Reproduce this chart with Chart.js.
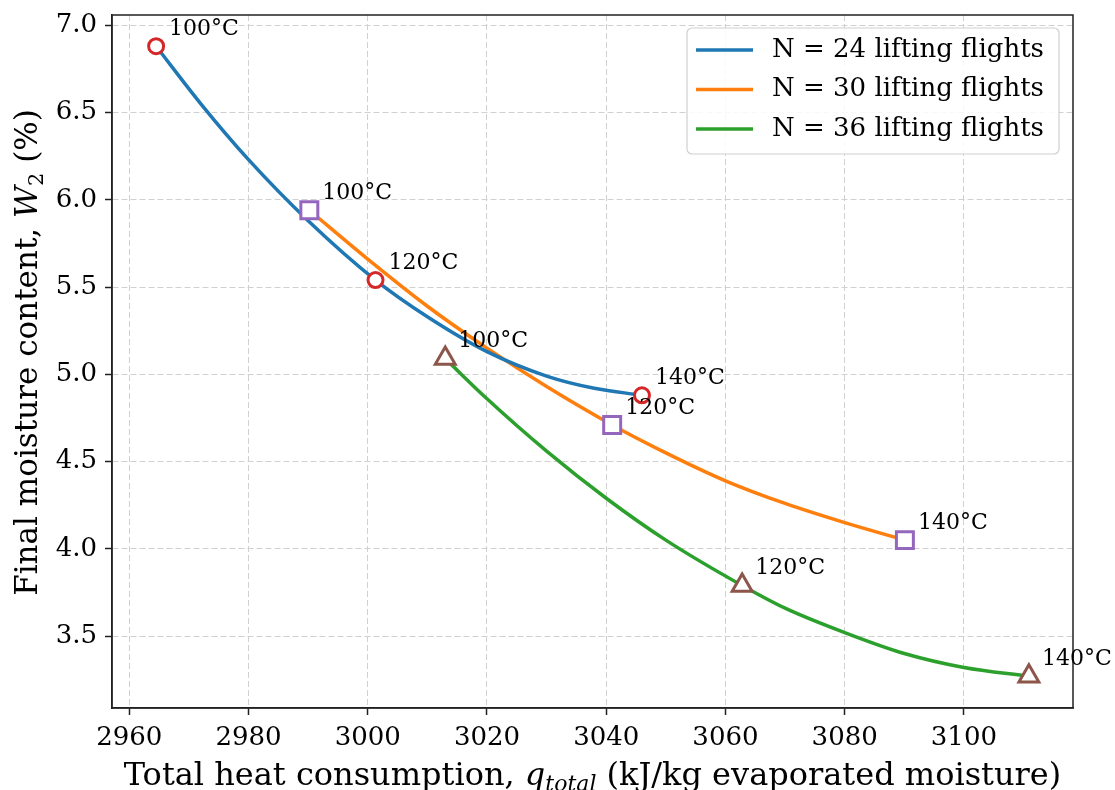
<!DOCTYPE html>
<html>
<head>
<meta charset="utf-8">
<script src="https://cdn.jsdelivr.net/npm/chart.js@4.4.0/dist/chart.umd.min.js"></script>
<style>
  html, body { margin: 0; padding: 0; background: #fff; }
  #wrap { width: 1115px; height: 790px; }
</style>
</head>
<body>
<div id="wrap"><canvas id="chart" width="1115" height="790"></canvas></div>
<script>
// tick labels
const xTicks = [2960, 2980, 3000, 3020, 3040, 3060, 3080, 3100];
const yTicks = [3.5, 4.0, 4.5, 5.0, 5.5, 6.0, 6.5, 7.0];

// series
const seriesLabels = ['N = 24 lifting flights', 'N = 30 lifting flights', 'N = 36 lifting flights'];
const tempLabels = ['100°C', '120°C', '140°C'];

// measured points (marker positions)
const n24Heat = [2964.5, 3001.3, 3046.0];
const n24Moist = [6.88, 5.54, 4.88];
const n30Heat = [2990.2, 3041.0, 3090.1];
const n30Moist = [5.94, 4.71, 4.05];
const n36Heat = [3013.0, 3062.8, 3110.9];
const n36Moist = [5.09, 3.79, 3.27];

// fitted curves
const n24CurveHeat = [2964.5, 2972, 2980, 2990, 3001.3, 3010, 3020, 3030, 3038, 3046.0];
const n24CurveMoist = [6.88, 6.55, 6.23, 5.88, 5.54, 5.33, 5.13, 4.99, 4.92, 4.88];
const n30CurveHeat = [2990.2, 3000, 3010, 3020, 3030, 3041.0, 3050, 3060, 3070, 3080, 3090.1];
const n30CurveMoist = [5.94, 5.66, 5.39, 5.15, 4.93, 4.71, 4.55, 4.39, 4.26, 4.15, 4.05];
const n36CurveHeat = [3013.0, 3020, 3030, 3040, 3050, 3062.8, 3070, 3080, 3090, 3100, 3110.9];
const n36CurveMoist = [5.09, 4.86, 4.56, 4.29, 4.05, 3.79, 3.66, 3.52, 3.40, 3.32, 3.27];

const lineColors = ['#1f77b4', '#ff7f0e', '#2ca02c'];
const markerColors = ['#d62728', '#9467bd', '#8c564b'];
const markerStyles = ['circle', 'rect', 'triangle'];
const markerRadius = [7.5, 12, 11.5];

const SERIF = '"DejaVu Serif", "Liberation Serif", serif';

function pairs(xs, ys) {
    return xs.map((x, i) => ({ x: x, y: ys[i] }));
}

const curves = [
    pairs(n24CurveHeat, n24CurveMoist),
    pairs(n30CurveHeat, n30CurveMoist),
    pairs(n36CurveHeat, n36CurveMoist)
];
const markers = [
    pairs(n24Heat, n24Moist),
    pairs(n30Heat, n30Moist),
    pairs(n36Heat, n36Moist)
];

const datasets = [];
curves.forEach((pts, i) => {
    datasets.push({
        label: seriesLabels[i],
        data: pts,
        showLine: true,
        borderColor: lineColors[i],
        borderWidth: 3.5,
        pointRadius: 0,
        cubicInterpolationMode: 'monotone',
        order: 2
    });
});
markers.forEach((pts, i) => {
    datasets.push({
        label: 'markers ' + i,
        data: pts,
        showLine: false,
        pointStyle: markerStyles[i],
        pointRadius: markerRadius[i],
        pointBorderWidth: 3,
        pointBorderColor: markerColors[i],
        pointBackgroundColor: '#ffffff',
        order: 1
    });
});

// draw a string made of several font runs (for italic / subscripts)
function richWidth(ctx, parts) {
    let w = 0;
    parts.forEach(p => { ctx.font = p.font; w += ctx.measureText(p.text).width; });
    return w;
}
function drawRich(ctx, parts, x, y) {
    const w = richWidth(ctx, parts);
    let cx = x - w / 2;
    parts.forEach(p => {
        ctx.font = p.font;
        ctx.fillText(p.text, cx, y + (p.dy || 0));
        cx += ctx.measureText(p.text).width;
    });
}

const decorations = {
    id: 'decorations',
    afterDatasetsDraw(chart) {
        const { ctx, chartArea: a, scales } = chart;
        ctx.save();
        // full frame
        ctx.strokeStyle = '#222';
        ctx.lineWidth = 1.5;
        ctx.strokeRect(a.left, a.top, a.right - a.left, a.bottom - a.top);

        // temperature annotations
        ctx.fillStyle = '#000';
        ctx.font = '22px ' + SERIF;
        ctx.textAlign = 'left';
        ctx.textBaseline = 'middle';
        markers.forEach(pts => {
            pts.forEach((p, j) => {
                const px = scales.x.getPixelForValue(p.x);
                const py = scales.y.getPixelForValue(p.y);
                ctx.fillText(tempLabels[j], px + 13, py - 17);
            });
        });
        ctx.restore();
    },
    afterDraw(chart) {
        const { ctx, chartArea: a } = chart;
        ctx.save();

        // legend (inside, upper right)
        const lw = 372, lh = 126;
        const lx = a.right - 14 - lw, ly = a.top + 13;
        ctx.fillStyle = 'rgba(255,255,255,0.85)';
        ctx.strokeStyle = '#cfcfcf';
        ctx.lineWidth = 1.2;
        ctx.beginPath();
        ctx.roundRect(lx, ly, lw, lh, 5);
        ctx.fill();
        ctx.stroke();
        ctx.font = '26px ' + SERIF;
        ctx.textAlign = 'left';
        ctx.textBaseline = 'middle';
        seriesLabels.forEach((lab, i) => {
            const ry = ly + 22 + i * 39.5;
            ctx.strokeStyle = lineColors[i];
            ctx.lineWidth = 3.5;
            ctx.beginPath();
            ctx.moveTo(lx + 9, ry);
            ctx.lineTo(lx + 66, ry);
            ctx.stroke();
            ctx.fillStyle = '#000';
            ctx.fillText(lab, lx + 85, ry);
        });

        // axis titles
        ctx.fillStyle = '#000';
        ctx.textAlign = 'left';
        ctx.textBaseline = 'alphabetic';
        const xBig = '32px ' + SERIF;
        drawRich(ctx, [
            { text: 'Total heat consumption, ', font: xBig },
            { text: 'q', font: 'italic ' + xBig },
            { text: 'total', font: 'italic 22px ' + SERIF, dy: 6 },
            { text: ' (kJ/kg evaporated moisture)', font: xBig }
        ], (a.left + a.right) / 2, 785);

        const yBig = '31px ' + SERIF;
        ctx.translate(37, (a.top + a.bottom) / 2 - 9);
        ctx.rotate(-Math.PI / 2);
        drawRich(ctx, [
            { text: 'Final moisture content, ', font: yBig },
            { text: 'W', font: 'italic ' + yBig },
            { text: '2', font: '21px ' + SERIF, dy: 6 },
            { text: ' (%)', font: yBig }
        ], 0, 0);
        ctx.restore();
    }
};

new Chart(document.getElementById('chart'), {
    type: 'scatter',
    data: { datasets: datasets },
    options: {
        responsive: false,
        animation: false,
        devicePixelRatio: 1,
        layout: { padding: { top: 14, right: 42, left: 0, bottom: 0 } },
        plugins: {
            legend: { display: false },
            tooltip: { enabled: false }
        },
        scales: {
            x: {
                type: 'linear',
                min: 2957.1,
                max: 3118.3,
                afterBuildTicks: s => { s.ticks = xTicks.map(v => ({ value: v })); },
                afterFit: s => { s.height = 82; s.paddingLeft = 0; s.paddingRight = 0; },
                ticks: {
                    color: '#000',
                    font: { family: SERIF, size: 26 },
                    padding: 8,
                    maxRotation: 0,
                    callback: v => String(v)
                },
                grid: {
                    color: '#d0d0d0',
                    lineWidth: 1,
                    tickColor: '#222',
                    tickLength: 7,
                    tickWidth: 1.5
                },
                border: { display: true, color: '#222', width: 1.5, dash: [6, 3] }
            },
            y: {
                type: 'linear',
                min: 3.088,
                max: 7.059,
                afterBuildTicks: s => { s.ticks = yTicks.map(v => ({ value: v })); },
                afterFit: s => { s.width = 112; s.paddingTop = 0; s.paddingBottom = 0; },
                ticks: {
                    color: '#000',
                    font: { family: SERIF, size: 26 },
                    padding: 8,
                    callback: v => Number(v).toFixed(1)
                },
                grid: {
                    color: '#d0d0d0',
                    lineWidth: 1,
                    tickColor: '#222',
                    tickLength: 7,
                    tickWidth: 1.5
                },
                border: { display: true, color: '#222', width: 1.5, dash: [6, 3] }
            }
        }
    },
    plugins: [decorations]
});
</script>
</body>
</html>
